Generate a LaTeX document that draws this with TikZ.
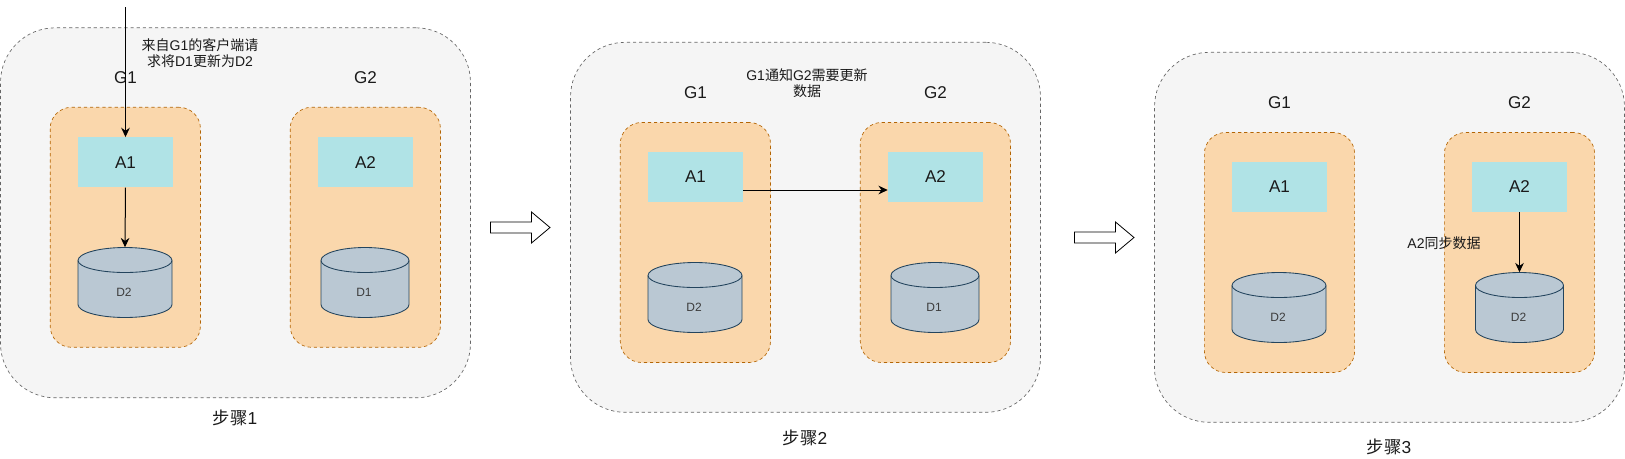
\documentclass[tikz,border=0pt]{standalone}
\usepackage{fontspec}
\setmainfont{Liberation Sans}
\newfontfamily\cjk{Noto Sans CJK SC}
\usetikzlibrary{arrows.meta}
\definecolor{panelfill}{HTML}{F5F5F5}
\definecolor{panelline}{HTML}{666666}
\definecolor{groupfill}{HTML}{FAD7AC}
\definecolor{groupline}{HTML}{B46504}
\definecolor{appfill}{HTML}{B0E3E6}
\definecolor{dbfill}{HTML}{BAC8D3}
\definecolor{dbline}{HTML}{23445D}
\definecolor{txt}{HTML}{1A1A1A}
\tikzset{
  x=0.75pt,y=-0.75pt,
  panel/.style={draw=panelline,fill=panelfill,line width=0.5pt,dash pattern=on 2.4pt off 2.2pt,rounded corners=41pt,inner sep=0pt,minimum width=352.5pt,minimum height=277.5pt},
  group/.style={draw=groupline,fill=groupfill,line width=0.5pt,dash pattern=on 2.4pt off 2.2pt,rounded corners=16pt,inner sep=0pt,minimum width=112.7pt,minimum height=180pt},
  app/.style={fill=appfill,inner sep=0pt,minimum height=37.5pt,font=\fontsize{12.8}{14}\selectfont,text=txt},
  dbbody/.style={inner sep=0pt,minimum height=52.5pt},
  dblabel/.style={inner sep=0pt,font=\fontsize{9}{11}\selectfont,text=txt!85!white},
  dbshape/.style={draw=dbline,fill=dbfill,line width=0.65pt},
  gname/.style={inner sep=0pt,font=\fontsize{12.8}{14}\selectfont,text=txt},
  note/.style={inner sep=0pt,align=center,font=\fontsize{10.5}{12}\selectfont,text=txt},
  steplabel/.style={inner sep=0pt,font=\fontsize{13}{15}\selectfont,text=txt},
  conn/.style={draw=black,line width=0.75pt,-{Stealth[length=7pt,width=6.5pt]}},
  blockarrow/.style={draw=black,fill=white,line width=0.6pt}
}
% \dbcyl{name}{centre x}{top y}{width px}{label}
\newcommand{\dbcyl}[5]{%
  \pgfmathsetmacro{\hw}{#4/2}
  \pgfmathsetmacro{\lft}{#2-\hw}
  \pgfmathsetmacro{\rgt}{#2+\hw}
  \pgfmathsetmacro{\ya}{#3+13}
  \pgfmathsetmacro{\yb}{#3+57}
  \draw[dbshape] (\lft,\ya) arc[start angle=180,end angle=0,x radius=\hw*0.75pt,y radius=13*0.75pt]
     -- (\rgt,\yb) arc[start angle=0,end angle=-180,x radius=\hw*0.75pt,y radius=13*0.75pt] -- cycle;
  \draw[dbshape,fill=none] (\lft,\ya) arc[start angle=180,end angle=360,x radius=\hw*0.75pt,y radius=12*0.75pt];
  \node[dbbody,minimum width=#4*0.75pt] (#1) at (#2,#3+35) {};
  \node[dblabel] (#1-text) at (#2-1,#3+45) {#5};
}
\newcommand{\blockarr}[3]{%
  \draw[blockarrow] (#1,#3-5.5) -- (#1+41,#3-5.5) -- (#1+41,#3-15.5) -- (#2,#3) -- (#1+41,#3+15.5) -- (#1+41,#3+5.5) -- (#1,#3+5.5) -- cycle;
}
\begin{document}
\begin{tikzpicture}
\useasboundingbox (0,0) rectangle (1625,458);
% ---------- step 1
\node[panel] (p1) at (235.5,212.8) {};
\node[group] (g11) at (125.3,227.3) {};
\node[group] (g12) at (365.3,227.3) {};
\node[app,minimum width=71.25pt] (a11) at (125.5,162.3) {A1};
\node[app,minimum width=71.25pt] (a12) at (365.5,162.3) {A2};
\dbcyl{d11}{125}{247.5}{94}{D2}
\dbcyl{d12}{365}{247.5}{88}{D1}
\node[gname] (n11) at (125.5,78) {G1};
\node[gname] (n12) at (365.5,78) {G2};
\node[note] (t1) at (200,53) {{\cjk 来自}G1{\cjk 的客户端请}\\{\cjk 求将}D1{\cjk 更新为}D2};
\node[steplabel] (s1) at (235,418) {{\cjk 步骤}1};
\coordinate (client) at (125.5,7);
\draw[conn] (client) -- (a11.north);
\draw[conn] (a11.south) -- (d11.north);
% ---------- block arrow 1
\blockarr{490.5}{550}{227.5}
% ---------- step 2
\node[panel] (p2) at (805.5,227.3) {};
\node[group] (g21) at (695.4,242.5) {};
\node[group] (g22) at (935.4,242.5) {};
\node[app,minimum width=71.25pt] (a21) at (695.5,177) {A1};
\node[app,minimum width=71.25pt] (a22) at (935.5,177) {A2};
\dbcyl{d21}{695}{262.5}{94}{D2}
\dbcyl{d22}{935}{262.5}{88}{D1}
\node[gname] (n21) at (695.5,93) {G1};
\node[gname] (n22) at (935.5,93) {G2};
\node[note] (t2) at (807,83) {G1{\cjk 通知}G2{\cjk 需要更新}\\{\cjk 数据}};
\node[steplabel] (s2) at (805,438) {{\cjk 步骤}2};
\draw[conn] (a21.east |- 0,190) -- (a22.west |- 0,190);
% ---------- block arrow 2
\blockarr{1074.5}{1134}{237.5}
% ---------- step 3
\node[panel] (p3) at (1389.5,237.3) {};
\node[group] (g31) at (1279.5,252.5) {};
\node[group] (g32) at (1519.5,252.5) {};
\node[app,minimum width=71.25pt] (a31) at (1279.5,187) {A1};
\node[app,minimum width=71.25pt] (a32) at (1519.5,187) {A2};
\dbcyl{d31}{1279}{272.5}{94}{D2}
\dbcyl{d32}{1519.5}{272.5}{88}{D2}
\node[gname] (n31) at (1279.5,103) {G1};
\node[gname] (n32) at (1519.5,103) {G2};
\node[note] (t3) at (1444,243) {A2{\cjk 同步数据}};
\node[steplabel] (s3) at (1389,447) {{\cjk 步骤}3};
\draw[conn] (a32.south) -- (d32.north);
\end{tikzpicture}
\end{document}
